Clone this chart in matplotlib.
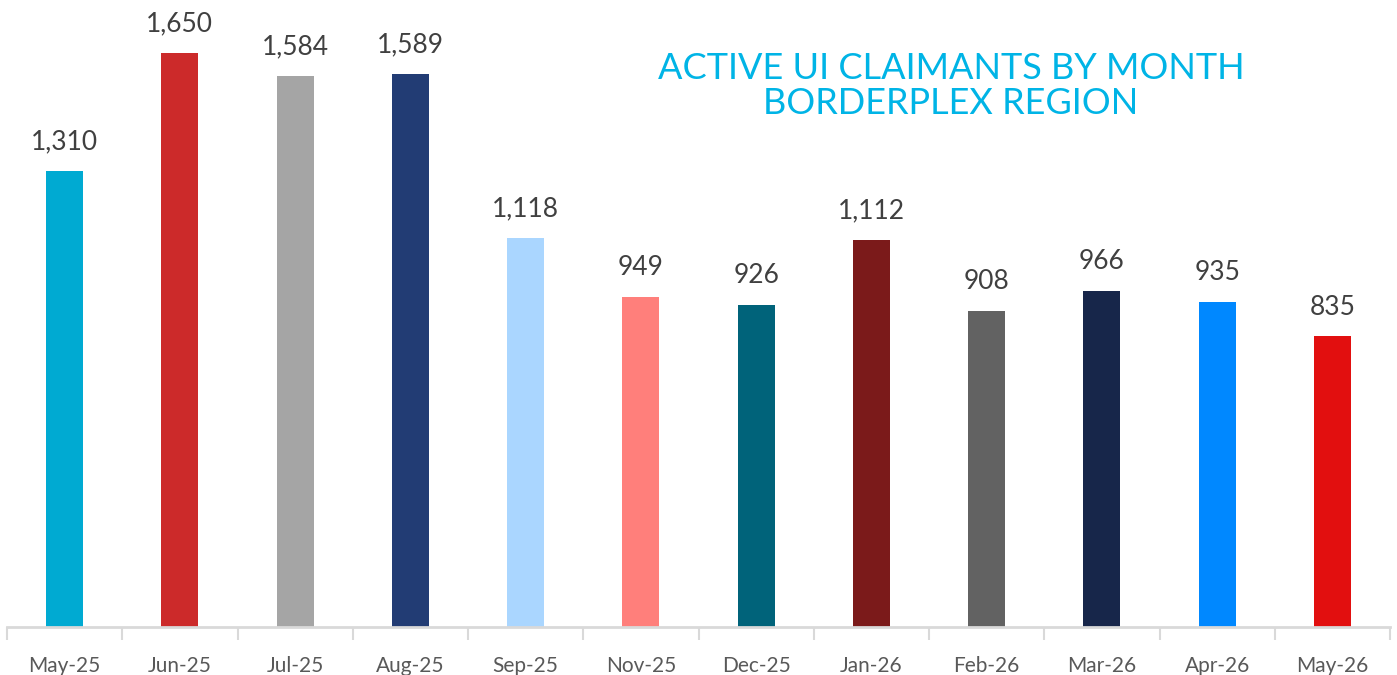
import matplotlib.pyplot as plt
import numpy as np

months = ["May-25", "Jun-25", "Jul-25", "Aug-25", "Sep-25", "Nov-25",
          "Dec-25", "Jan-26", "Feb-26", "Mar-26", "Apr-26", "May-26"]
claimants = [1310, 1650, 1584, 1589, 1118, 949, 926, 1112, 908, 966, 935, 835]
bar_colors = ["#00AAD2", "#CC2A2A", "#A5A5A5", "#223C74", "#AAD6FF", "#FF7F7B",
              "#00637A", "#7B1A1A", "#626262", "#17264A", "#0088FF", "#E20F0F"]

plt.rcParams['font.family'] = ['Lato', 'DejaVu Sans']

fig = plt.figure(figsize=(13.97, 6.75), dpi=100)
ax = fig.add_axes([7 / 1397, 48 / 675, 1383 / 1397, 627 / 675])

x = np.arange(len(months))
bars = ax.bar(x, claimants, width=0.32, color=bar_colors, zorder=2)

# value labels above bars
for bar, val in zip(bars, claimants):
    ax.text(bar.get_x() + bar.get_width() / 2, val + 48, f"{val:,}",
            ha='center', va='bottom', fontsize=19, color='#404040')

ax.set_xlim(-0.5, len(months) - 0.5)
ax.set_ylim(0, 1802)

# category labels, with tick marks between categories
ax.set_xticks(x)
ax.set_xticklabels(months, fontsize=15, color='#595959')
ax.tick_params(axis='x', which='major', length=0, pad=21)
ax.set_xticks(np.arange(-0.5, len(months)), minor=True)
ax.tick_params(axis='x', which='minor', length=9, width=1.5, color='#D9D9D9')
ax.set_yticks([])

for side in ['top', 'right', 'left']:
    ax.spines[side].set_visible(False)
ax.spines['bottom'].set_color('#D9D9D9')
ax.spines['bottom'].set_linewidth(2)

fig.text(951 / 1397, 1 - 86 / 675, "ACTIVE UI CLAIMANTS BY MONTH\nBORDERPLEX REGION",
         ha='center', va='center', fontsize=26, color='#00B4E6', linespacing=1.1)

plt.savefig("out.png", dpi=100)
